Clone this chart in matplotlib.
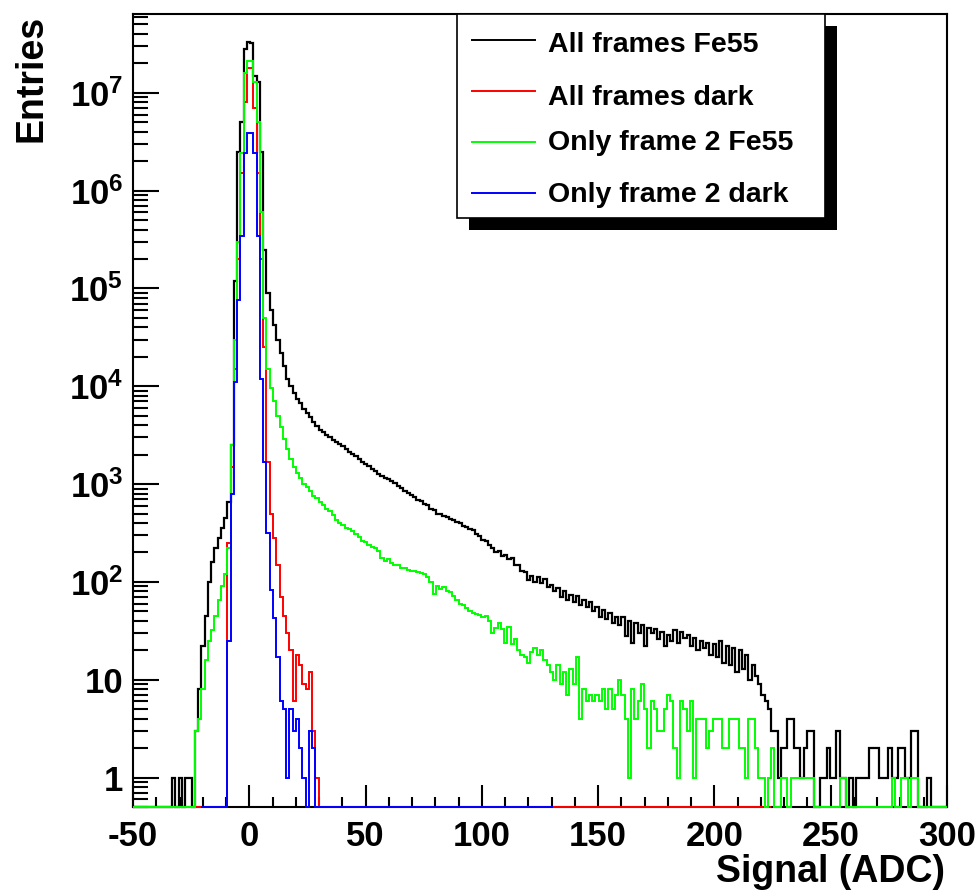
import matplotlib.pyplot as plt
import numpy as np
from matplotlib.patches import Rectangle
from matplotlib.lines import Line2D
from matplotlib.transforms import Affine2D
from matplotlib.ticker import MultipleLocator, FixedLocator, FuncFormatter, NullFormatter

plt.rcParams['font.family'] = ['Liberation Sans', 'DejaVu Sans']
plt.rcParams['font.weight'] = 'bold'
plt.rcParams['mathtext.fontset'] = 'custom'
plt.rcParams['mathtext.rm'] = 'Liberation Sans:bold'
plt.rcParams['mathtext.it'] = 'Liberation Sans:bold'
plt.rcParams['mathtext.bf'] = 'Liberation Sans:bold'
plt.rcParams['axes.unicode_minus'] = False

# histogram binning (ADC)
bin_w = 1.4

# all frames, Fe55 source : range -50..300
black_lo, black_hi = -50.0, 300.0
black_counts = [
    0, 0, 0, 0, 0, 0, 0, 0, 0, 0,
    0, 0, 1, 0, 1, 0, 1, 1, 0, 3,
    8, 22, 45, 100, 160, 220, 280, 360, 450, 650,
    2500, 1.2e5, 2.5e6, 5e6, 2.8e7, 3.3e7, 3.2e7, 1.5e7, 1.3e7, 2.5e6,
    2.5e5, 9e4, 6e4, 4.2e4, 3e4, 2.2e4, 1.6e4, 1.2e4, 1e4, 8500,
    7500, 6700, 5900, 5300, 4800, 4300, 3950, 3600, 3400, 3150,
    3000, 2800, 2700, 2550, 2450, 2300, 2150, 2050, 1950, 1820,
    1700, 1620, 1520, 1420, 1350, 1260, 1200, 1150, 1120, 1070,
    1020, 950, 915, 845, 815, 770, 745, 695, 665, 625,
    605, 555, 545, 495, 492, 470, 460, 440, 432, 410,
    400, 372, 368, 350, 336, 312, 298, 270, 262, 236,
    224, 200, 206, 186, 190, 172, 176, 150, 148, 128,
    126, 104, 116, 100, 112, 98, 106, 88, 94, 80,
    86, 70, 80, 66, 74, 62, 72, 58, 66, 56,
    62, 50, 56, 44, 52, 42, 48, 38, 44, 36,
    44, 28, 40, 24, 38, 30, 36, 22, 34, 30,
    33, 26, 31, 22, 29, 25, 32, 24, 31, 27,
    29, 22, 27, 20, 25, 21, 24, 18, 23, 17,
    25, 15, 22, 14, 21, 12, 20, 13, 18, 10,
    14, 11, 9, 7, 6, 5, 3, 3, 1, 2,
    2, 4, 4, 2, 2, 1, 2, 3, 3, 0,
    0, 1, 1, 2, 1, 1, 3, 1, 1, 0,
    1, 0, 1, 1, 1, 1, 2, 2, 2, 1,
    1, 1, 2, 1, 1, 2, 2, 1, 1, 3,
    3, 0, 0, 0, 1, 0, 0, 0, 0, 0,
]

# all frames, dark : range -23.4..224.4 (later bins empty)
red_lo, red_hi = -23.4, 224.4
red_counts = [
    0, 0, 0, 0, 0, 0, 0, 0, 0, 0,
    250, 1500, 1.5e4, 2e5, 1.5e6, 8e6, 1.8e7, 1.8e7, 7e6, 1.5e6,
    2e5, 2.5e4, 1700, 500, 280, 150, 70, 45, 30, 20,
    6, 18, 14, 9, 8, 12, 3, 1,
]

# frame 2 only, Fe55 source : range -50..300
green_lo, green_hi = -50.0, 300.0
green_counts = [
    0, 0, 0, 0, 0, 0, 0, 0, 0, 0,
    0, 0, 0, 0, 0, 0, 0, 0, 0, 3,
    4, 8, 16, 25, 32, 45, 65, 90, 120, 220,
    2500, 3e4, 3e5, 2.4e6, 1.6e7, 2.1e7, 2.1e7, 1.3e7, 5e6, 6e5,
    5e4, 1.5e4, 9500, 7000, 5000, 3800, 2900, 2300, 1800, 1500,
    1300, 1150, 1000, 930, 850, 760, 720, 660, 610, 560,
    530, 480, 430, 400, 380, 360, 345, 330, 310, 285,
    265, 255, 240, 230, 220, 205, 175, 165, 170, 155,
    150, 148, 140, 138, 133, 130, 128, 125, 122, 120,
    112, 100, 75, 90, 85, 88, 80, 78, 72, 66,
    60, 58, 54, 50, 48, 47, 46, 44, 45, 40,
    30, 34, 38, 33, 24, 35, 23, 26, 20, 18,
    17, 15, 19, 21, 18, 20, 16, 14, 12, 10,
    14, 9, 12, 7, 13, 9, 17, 4, 8, 6,
    7, 6, 7, 6, 8, 5, 8, 5, 7, 10,
    7, 4, 1, 8, 4, 6, 9, 5, 2, 6,
    5, 3, 3, 5, 7, 6, 2, 1, 6, 5,
    3, 6, 1, 4, 4, 4, 2, 3, 4, 4,
    4, 2, 2, 4, 4, 4, 2, 2, 1, 4,
    4, 2, 1, 1, 0, 1, 2, 0, 0, 1,
    1, 0, 1, 1, 1, 1, 1, 1, 1, 0,
    0, 0, 0, 0, 0, 0, 0, 1, 1, 0,
    0, 0, 0, 0, 0, 0, 0, 0, 0, 0,
    0, 0, 0, 1, 0, 0, 1, 1, 0, 1,
    1, 0, 0, 0, 0, 0, 0, 0, 0, 0,
]

# frame 2 only, dark : range -20.6..130.6 (later bins empty)
blue_lo, blue_hi = -20.6, 130.6
blue_counts = [
    0, 0, 0, 0, 0, 0, 0, 0,
    25, 800, 1.1e4, 7.6e4, 3.4e5, 2.4e6, 3.9e6, 3.9e6, 2.4e6, 3.4e5,
    1.2e4, 1700, 315, 82, 43, 17, 6, 5, 1, 5,
    3, 4, 2, 1, 0, 3, 2,
]

labels = ["All frames Fe55", "All frames dark", "Only frame 2 Fe55", "Only frame 2 dark"]
colors = ["#000000", "#ff0000", "#00ff00", "#0000ff"]

y_floor, y_top = 0.5, 6.4e7
decades = [0, 1, 2, 3, 4, 5, 6, 7]


def make_hist(lo, hi, counts):
    nbins = int(round((hi - lo) / bin_w))
    edges = lo + bin_w * np.arange(nbins + 1)
    vals = np.zeros(nbins)
    vals[:len(counts)] = counts
    # empty bins sit on the bottom of the frame, as in a log-scale ROOT plot
    vals = np.where(vals > 0, vals, y_floor)
    return edges, vals


def log_label(v, pos):
    e = int(round(np.log10(v)))
    if e == 0:
        return "1"
    if e == 1:
        return "10"
    return r"$10^{%d}$" % e


fig = plt.figure(figsize=(9.78, 8.93), dpi=100)
ax = fig.add_axes([133 / 978, 1 - 807 / 893, 814 / 978, 793 / 893])

series = [(black_lo, black_hi, black_counts, 1.6),
          (red_lo, red_hi, red_counts, 1.4),
          (green_lo, green_hi, green_counts, 1.4),
          (blue_lo, blue_hi, blue_counts, 1.4)]
for (lo, hi, counts, lw), col in zip(series, colors):
    edges, vals = make_hist(lo, hi, counts)
    ax.stairs(vals, edges, baseline=None, color=col, lw=lw, zorder=3, clip_on=False)

ax.set_yscale("log")
ax.set_xlim(-50, 300)
ax.set_ylim(y_floor, y_top)

# only ticks inside the frame, so no hidden labels hang off the figure
major_y = [10.0 ** d for d in decades]
minor_y = [m * 10.0 ** d for d in [-1] + decades for m in range(2, 10)]
minor_y = [v for v in minor_y if y_floor <= v <= y_top]

ax.xaxis.set_major_locator(MultipleLocator(50))
ax.xaxis.set_minor_locator(MultipleLocator(10))
ax.yaxis.set_major_locator(FixedLocator(major_y))
ax.yaxis.set_minor_locator(FixedLocator(minor_y))
ax.yaxis.set_major_formatter(FuncFormatter(log_label))
ax.yaxis.set_minor_formatter(NullFormatter())

ax.tick_params(axis="both", which="both", direction="in", top=False, right=False, width=1.5)
ax.tick_params(axis="y", which="major", length=19, labelsize=25, pad=7)
ax.tick_params(axis="y", which="minor", length=11)
ax.tick_params(axis="x", which="major", length=16, labelsize=25, pad=9)
ax.tick_params(axis="x", which="minor", length=7.5)
for sp in ax.spines.values():
    sp.set_linewidth(1.5)
    sp.set_zorder(2)

# pixel coordinates measured from the top-left corner of the figure
px = Affine2D().scale(1 / 978, -1 / 893).translate(0, 1) + fig.transFigure

fig.text(31, 15, "Entries", transform=px, rotation=90, ha="center", va="top", fontsize=27)
fig.text(945, 882, "Signal (ADC)", transform=px, ha="right", va="baseline", fontsize=27)

# legend box with drop shadow
fig.add_artist(Rectangle((469, 26), 368, 204, transform=px, facecolor="black", edgecolor="none"))
fig.add_artist(Rectangle((457, 14), 368, 204, transform=px, facecolor="white",
                         edgecolor="black", lw=1.2))
line_y = [40, 91, 142, 193]
text_y = [52, 105, 150, 202]
for lab, col, ly, ty in zip(labels, colors, line_y, text_y):
    fig.add_artist(Line2D([472, 535], [ly, ly], transform=px, color=col, lw=1.4))
    fig.text(548, ty, lab, transform=px, ha="left", va="baseline", fontsize=20.5)

plt.savefig("out.png", dpi=100)
plt.close()
